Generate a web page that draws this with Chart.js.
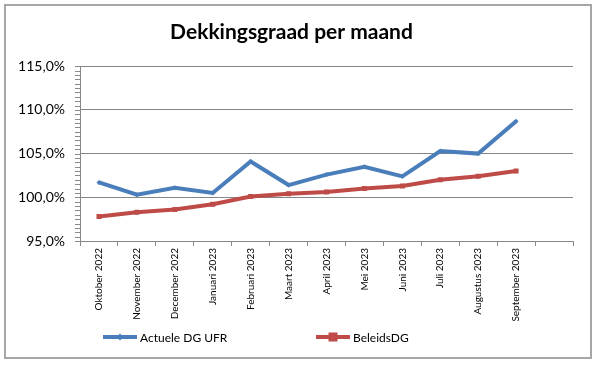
<!DOCTYPE html>
<html>
<head>
<meta charset="utf-8">
<script src="https://cdn.jsdelivr.net/npm/chart.js@4/dist/chart.umd.min.js"></script>
<style>
  body { margin: 0; background: #fff; }
  #wrap { position: relative; width: 600px; height: 367px; }
  #frame { position: absolute; left: 4px; top: 4px; width: 584px; height: 351px; border: 2px solid #a6a6a6; pointer-events: none; }
</style>
</head>
<body>
<div id="wrap">
  <canvas id="chart" width="600" height="367"></canvas>
  <div id="frame"></div>
</div>
<script>
// months on the x axis (last slot is empty in the original)
const months = [
    'Oktober 2022', 'November 2022', 'December 2022', 'Januari 2023',
    'Februari 2023', 'Maart 2023', 'April 2023', 'Mei 2023',
    'Juni 2023', 'Juli 2023', 'Augustus 2023', 'September 2023', ''
];

// dekkingsgraad in %
const actueleDG = [101.7, 100.3, 101.1, 100.5, 104.1, 101.4, 102.6, 103.5, 102.4, 105.3, 105.0, 108.7];
const beleidsDG = [97.8, 98.3, 98.6, 99.2, 100.1, 100.4, 100.6, 101.0, 101.3, 102.0, 102.4, 103.0];

// y axis: labelled every 5%, small tick every 0.5%
const yMin = 95;
const yMax = 115;
const yMajor = 5;
const yMinor = 0.5;

const axisColor = '#868686';
const fontFamily = 'Lato, "Open Sans", sans-serif';

// small tick marks left of the y axis
const minorTicks = {
    id: 'minorTicks',
    afterDatasetsDraw(chart, args, opts) {
        const y = chart.scales.y;
        const ctx = chart.ctx;
        ctx.save();
        ctx.strokeStyle = opts.color;
        ctx.lineWidth = 1;
        ctx.beginPath();
        for (let v = yMin; v <= yMax + 1e-9; v += yMinor) {
            const py = Math.round(y.getPixelForValue(v)) + 0.5;
            ctx.moveTo(y.right - opts.length, py);
            ctx.lineTo(y.right, py);
        }
        ctx.stroke();
        ctx.restore();
    }
};

// legend with a little line + marker, like excel does it
const lineLegend = {
    id: 'lineLegend',
    afterDraw(chart, args, opts) {
        const ctx = chart.ctx;
        ctx.save();
        chart.data.datasets.forEach((ds, i) => {
            const x = opts.x[i];
            const y = opts.y;
            const mid = x + opts.lineLength / 2;
            ctx.strokeStyle = ds.borderColor;
            ctx.lineWidth = ds.borderWidth;
            ctx.beginPath();
            ctx.moveTo(x, y);
            ctx.lineTo(x + opts.lineLength, y);
            ctx.stroke();
            // marker
            const r = ds.pointRadius + 1;
            ctx.fillStyle = ds.borderColor;
            ctx.beginPath();
            if (ds.pointStyle === 'rectRot') {
                ctx.moveTo(mid, y - r);
                ctx.lineTo(mid + r, y);
                ctx.lineTo(mid, y + r);
                ctx.lineTo(mid - r, y);
                ctx.closePath();
            } else {
                ctx.rect(mid - r, y - r, r * 2, r * 2);
            }
            ctx.fill();
            ctx.fillStyle = '#000';
            ctx.font = opts.font;
            ctx.textBaseline = 'middle';
            ctx.textAlign = 'left';
            ctx.fillText(ds.label, x + opts.lineLength + 3, y + 1);
        });
        ctx.restore();
    }
};

const config = {
    type: 'line',
    data: {
        labels: months,
        datasets: [{
            label: 'Actuele DG UFR',
            data: actueleDG,
            borderColor: '#4a7ebb',
            backgroundColor: '#4a7ebb',
            borderWidth: 4,
            pointStyle: 'rectRot',
            pointRadius: 2.5,
            pointBorderWidth: 0,
            tension: 0
        }, {
            label: 'BeleidsDG',
            data: beleidsDG,
            borderColor: '#be4b48',
            backgroundColor: '#be4b48',
            borderWidth: 4,
            pointStyle: 'rect',
            pointRadius: 3.5,
            pointBorderWidth: 0,
            tension: 0
        }]
    },
    options: {
        responsive: false,
        animation: false,
        layout: { padding: { left: 10, right: 27, top: 0, bottom: 46 } },
        plugins: {
            legend: { display: false },
            tooltip: { enabled: false },
            title: {
                display: true,
                text: 'Dekkingsgraad per maand',
                color: '#000',
                font: { family: fontFamily, size: 21, weight: 'bold' },
                padding: { top: 20, bottom: 21 }
            },
            minorTicks: { color: '#8a8a8a', length: 5 },
            lineLegend: {
                x: [103, 316],
                y: 337,
                lineLength: 34,
                font: '12px ' + fontFamily
            }
        },
        scales: {
            x: {
                offset: true,
                grid: { offset: true, drawOnChartArea: false, color: axisColor, tickLength: 5 },
                border: { color: axisColor },
                ticks: {
                    autoSkip: false, minRotation: 90, maxRotation: 90,
                    padding: 2, color: '#000',
                    font: { family: fontFamily, size: 10 }
                },
                afterFit: (scale) => { scale.height = 80; }
            },
            y: {
                min: yMin,
                max: yMax,
                grid: { color: axisColor, drawTicks: false },
                border: { color: axisColor },
                ticks: {
                    stepSize: yMajor,
                    padding: 15,
                    color: '#000',
                    font: { family: fontFamily, size: 14 },
                    callback: (v) => v.toFixed(1).replace('.', ',') + '%'
                },
                afterFit: (scale) => { scale.width = 70; }
            }
        }
    },
    plugins: [minorTicks, lineLegend]
};

const myChart = new Chart(document.getElementById('chart'), config);
</script>
</body>
</html>
